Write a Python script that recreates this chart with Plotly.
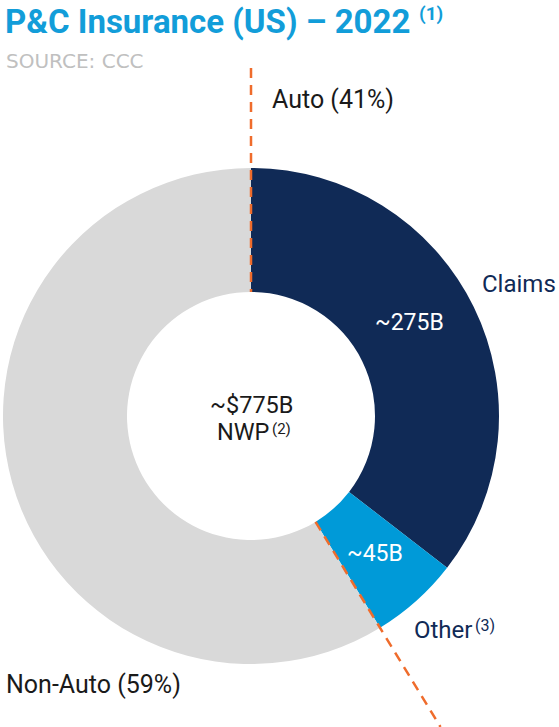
import math
import plotly.graph_objects as go

# ---- data ----
segments = ["Claims", "Other", "Non-Auto"]
values = [275, 45, 455]
inside_labels = ["~275B", "~45B"]
colors = ["#102a56", "#009ad8", "#d9d9d9"]
total_label = "~$775B"
total_sub = "NWP"
auto_label = "Auto (41%)"
nonauto_label = "Non-Auto (59%)"
title_text = "P&C Insurance (US) – 2022"
source_text = "SOURCE: CCC"

W, H = 559, 727
CX, CY, R = 251, 416, 248   # pixel geometry of donut
HOLE = 0.5

def px(x):
    return x / W

def py(y):
    return 1 - y / H

fig = go.Figure()
fig.add_trace(go.Pie(
    labels=segments,
    values=values,
    textinfo="none",
    marker=dict(colors=colors, line=dict(width=0)),
    hole=HOLE,
    sort=False,
    direction="clockwise",
    rotation=0,
    showlegend=False,
    hoverinfo="label+value",
    domain=dict(x=[px(CX - R), px(CX + R)], y=[py(CY + R), py(CY - R)]),
))

# dashed separator lines (Auto vs Non-Auto) computed from the data
tot = sum(values)
auto_frac = (values[0] + values[1]) / tot
ang = 2 * math.pi * auto_frac
r_in = R * HOLE
dash_style = "10px,7px"
fig.add_shape(type="line", xref="paper", yref="paper",
              x0=px(CX), y0=py(68), x1=px(CX), y1=py(CY - r_in),
              line=dict(color="#ef6c2c", width=2.5, dash=dash_style))
dx, dy = math.sin(ang), -math.cos(ang)
x0, y0 = CX + dx * r_in, CY + dy * r_in
t_end = (H - CY) / dy
x1, y1 = CX + dx * t_end, CY + dy * t_end
fig.add_shape(type="line", xref="paper", yref="paper",
              x0=px(x0), y0=py(y0), x1=px(x1), y1=py(y1),
              line=dict(color="#ef6c2c", width=2.5, dash=dash_style))

def ann(text, x, y, size, color, xanchor="left", yanchor="middle",
        family="Roboto", height=None):
    kw = {}
    if height is not None:
        kw["height"] = height
    fig.add_annotation(text=text, x=px(x), y=py(y), xref="paper", yref="paper",
                       xanchor=xanchor, yanchor=yanchor, showarrow=False,
                       borderpad=0,
                       font=dict(family=family, size=size, color=color), **kw)

ann("<b>" + title_text + "</b>", 4, 21, 33, "#129dd9")
ann("<b>(1)</b>", 418, 14, 19, "#129dd9")
ann(source_text, 5, 61, 20, "#c0c0c0", family="DejaVu Sans")
ann(auto_label, 271, 100, 25, "#1a1a1a")
ann(nonauto_label, 5, 684, 25, "#1a1a1a")
ann(segments[0], 557, 284, 24, "#102a56", xanchor="right")
ann(segments[1], 413, 630, 24, "#102a56")
ann("(3)", 474, 625, 16, "#102a56")
ann(inside_labels[0], 409, 322, 23, "white", xanchor="center")
ann(inside_labels[1], 375, 553, 23, "white", xanchor="center")
ann(total_label, CX, 405, 23.5, "#1a1a1a", xanchor="center")
ann(total_sub, 270, 432, 23.5, "#1a1a1a", xanchor="right")
ann("(2)", 271, 428.5, 15, "#1a1a1a", xanchor="left")

fig.update_layout(width=W, height=H, margin=dict(l=0, r=0, t=0, b=0),
                  paper_bgcolor="white", plot_bgcolor="white")
fig.write_html("out.html", config={"displayModeBar": False},
               post_script="document.body.style.margin='0px';document.body.style.padding='0px';")
